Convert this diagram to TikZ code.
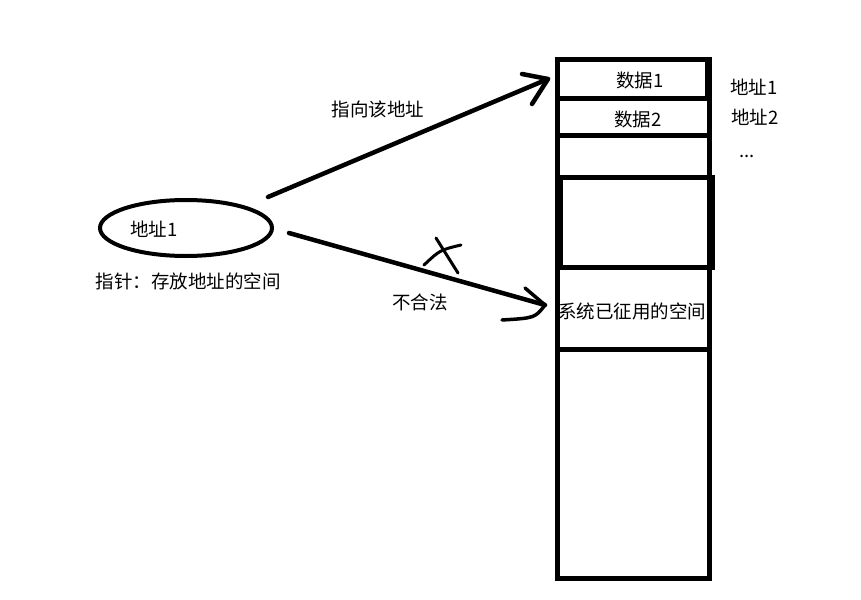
\documentclass[tikz,border=0pt]{standalone}
\usepackage{fontspec}
\usetikzlibrary{shapes.geometric}
\setmainfont{Noto Sans CJK SC}
\begin{document}
\begin{tikzpicture}[x=1pt,y=-1pt,
  lbl/.style={inner sep=0pt,font=\fontsize{18.5}{18.5}\selectfont},
  cell/.style={draw,line width=5pt,inner sep=0pt,outer sep=0pt,anchor=north west},
  pen/.style={line width=4.5pt,line cap=round,line join=round}]
\useasboundingbox (0,0) rectangle (861,599);
% memory column
\node[cell,minimum width=152pt,minimum height=518pt] (col) at (557,60) {};
\node[cell,minimum width=150pt,minimum height=39pt] (box1) at (557,60) {};
\node[cell,minimum width=152pt,minimum height=36pt] (box2) at (557,99) {};
\node[cell,minimum width=152pt,minimum height=90pt] (box3) at (560,177) {};
\node[cell,minimum width=152pt,minimum height=82pt] (sysbox) at (557,267) {};
\node[lbl] (d1) at (640,80) {数据1};
\node[lbl] (d2) at (638,119) {数据2};
\node[lbl] (sys) at (632,311) {系统已征用的空间};
\node[lbl] (a1) at (754,87) {地址1};
\node[lbl] (a2) at (755,117) {地址2};
\node[lbl] (dots) at (747,156) {...};
% pointer
\node[draw,ellipse,line width=4pt,minimum width=172pt,minimum height=56pt,inner sep=0pt] (ptr) at (186,228) {};
\node[lbl] (p1) at (154,229) {地址1};
\node[lbl] (cap) at (188,281) {指针：存放地址的空间};
% arrow 1
\coordinate (s1) at (268,197);
\coordinate (e1) at (548,79);
\coordinate (h1a) at (522,74);
\coordinate (h1b) at (532,104);
\draw[pen] (s1) -- (e1);
\draw[pen] (h1a) -- (e1) -- (h1b);
\node[lbl] (l1) at (378,109) {指向该地址};
% arrow 2
\coordinate (s2) at (289,233);
\coordinate (e2) at (545,305);
\coordinate (h2a) at (525,288);
\coordinate (h2b) at (502,320);
\draw[pen] (s2) -- (e2);
\draw[pen,line width=3.5pt] (h2a) -- (e2) .. controls (535,318) .. (h2b);
\node[lbl] (l2) at (420,302) {不合法};
% cross mark
\coordinate (x1) at (436,238);
\coordinate (x2) at (458,273);
\coordinate (x3) at (424,265);
\coordinate (x4) at (461,245);
\draw[line width=3pt,line cap=round] (x1) -- (x2);
\draw[line width=3pt,line cap=round] (x3) .. controls (440,250) .. (x4);
\end{tikzpicture}
\end{document}
